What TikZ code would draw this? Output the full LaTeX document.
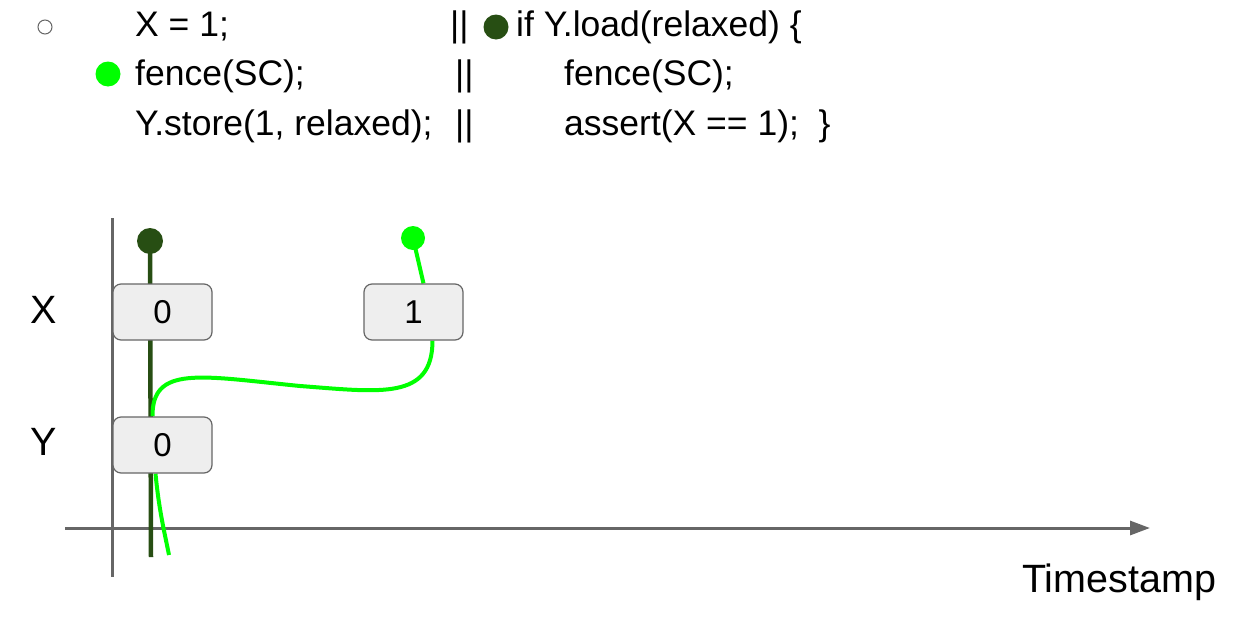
\documentclass[tikz,border=0pt]{standalone}
\usepackage{fontspec}
\setmainfont{Liberation Sans}
\usepackage{tikz}
\usetikzlibrary{arrows.meta}
\usetikzlibrary{backgrounds}
\definecolor{axisgray}{HTML}{666666}
\definecolor{cellgray}{HTML}{EEEEEE}
\definecolor{deepgreen}{HTML}{274E13}
\definecolor{litegreen}{HTML}{00FF00}
\tikzset{cell/.style={draw=axisgray, fill=cellgray, line width=1.2pt, rounded corners=8pt, minimum width=99pt, minimum height=56pt, inner sep=0pt, font=\fontsize{33}{39}\selectfont}}
\tikzset{codeline/.style={anchor=base west, inner sep=0pt, font=\fontsize{35.5}{42}\selectfont}}
\tikzset{axislabel/.style={anchor=base, inner sep=0pt, font=\fontsize{39.5}{46}\selectfont}}
\tikzset{blob/.style={circle, inner sep=0pt, minimum size=#1}}

\begin{document}
\begin{tikzpicture}[x=1pt, y=-1pt]
\useasboundingbox (0,0) rectangle (1237,616);
\node[blob=14pt, draw=axisgray, line width=1pt] (c0) at (45,27) {};
\node[blob=25pt, fill=litegreen] (c1) at (108,74) {};
\node[blob=25pt, fill=deepgreen] (c2) at (496,27) {};
\node[codeline] (l1a) at (135,36) {X = 1;};
\node[codeline] (l2a) at (135,85) {fence(SC);};
\node[codeline] (l3a) at (135,135) {Y.store(1, relaxed);};
\foreach \x/\y [count=\i] in {450/36, 455/85, 455/135} {
 \node[codeline] (bar\i) at (\x,\y) {||};
}
\node[codeline] (l1c) at (516,36) {if Y.load(relaxed) \{};
\node[codeline] (l2c) at (564,85) {fence(SC);};
\node[codeline] (l3c) at (564,135) {assert(X == 1);\ \ \}};

\node[axislabel] (xl) at (44,323) {X};
\node[axislabel] (yl) at (44,455) {Y};
\node[axislabel, anchor=base west] (ts) at (1022,592) {Timestamp};

\node[blob=26pt, fill=deepgreen] (d0) at (150,241) {};
\node[blob=24pt, fill=litegreen] (g0) at (413,238) {};
\node[cell] (x0) at (162.5,312) {0};
\node[cell] (x1) at (413.5,312) {1};
\node[cell] (y0) at (162.5,445) {0};
\coordinate (o1) at (112,218);
\coordinate (o2) at (112,577);
\coordinate (t0) at (65,528);
\coordinate (t1) at (1150,528);
\coordinate (dend) at (151,557);
\coordinate (gend) at (169,555);

\begin{scope}[on background layer]
\draw[axisgray, line width=3pt] (o1) -- (o2);
\draw[axisgray, line width=3pt, -{Triangle[length=20pt,width=14pt]}] (t0) -- (t1);
\draw[deepgreen, line width=4.5pt] (d0.center) -- (dend);
\draw[litegreen, line width=4pt] (g0.center) -- ([xshift=10pt]x1.north);
\draw[litegreen, line width=4pt] ([xshift=19pt]x1.south) .. controls +(0,60) and (380,392) .. (300,386) .. controls (200,376) and (152,365) .. ([xshift=-10pt]y0.north);
\draw[litegreen, line width=4pt] ([xshift=-7pt]y0.south) .. controls (159,510) and (164,530) .. (gend);
\end{scope}
\end{tikzpicture}
\end{document}
